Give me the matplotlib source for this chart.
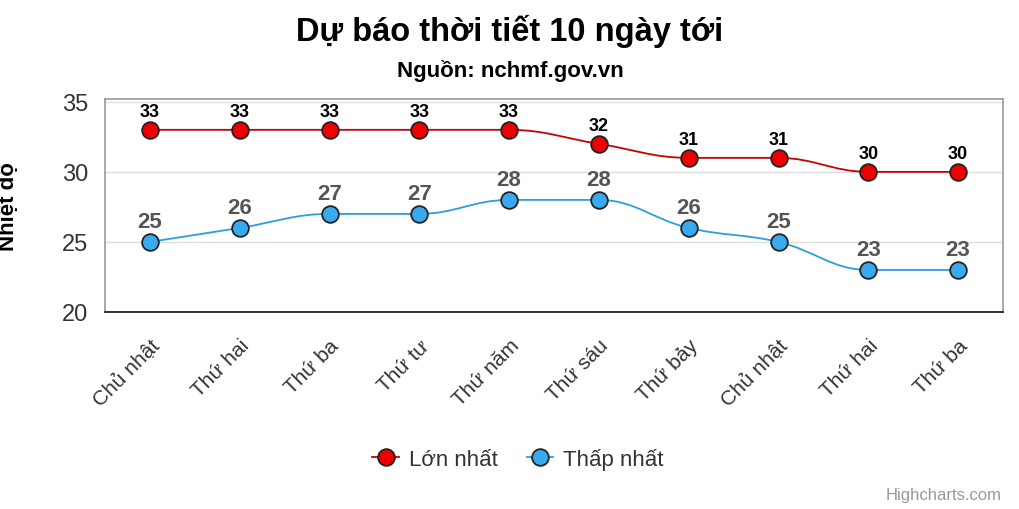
import numpy as np
import matplotlib.pyplot as plt
from matplotlib.path import Path
import matplotlib.patches as patches

plt.rcParams['font.family'] = ['Liberation Sans', 'DejaVu Sans']

days = ['Chủ nhật', 'Thứ hai', 'Thứ ba', 'Thứ tư', 'Thứ năm',
        'Thứ sáu', 'Thứ bảy', 'Chủ nhật', 'Thứ hai', 'Thứ ba']
t_max = [33, 33, 33, 33, 33, 32, 31, 31, 30, 30]
t_min = [25, 26, 27, 27, 28, 28, 26, 25, 23, 23]
series_names = ['Lớn nhất', 'Thấp nhất']


def spline_path(xs, ys, smoothing=1.5):
    # Highcharts-style spline control points, drawn as cubic Bezier segments
    n = len(xs)
    denom = smoothing + 1
    left = [None] * n
    right = [None] * n
    for i in range(n):
        if i == 0 or i == n - 1:
            left[i] = right[i] = (xs[i], ys[i])
            continue
        lx = (smoothing * xs[i] + xs[i - 1]) / denom
        ly = (smoothing * ys[i] + ys[i - 1]) / denom
        rx = (smoothing * xs[i] + xs[i + 1]) / denom
        ry = (smoothing * ys[i] + ys[i + 1]) / denom
        if rx != lx:
            corr = (ry - ly) * (rx - xs[i]) / (rx - lx) + ys[i] - ry
            ly += corr
            ry += corr
        hi, lo = max(ys[i - 1], ys[i]), min(ys[i - 1], ys[i])
        if ly > hi:
            ly = hi; ry = 2 * ys[i] - ly
        elif ly < lo:
            ly = lo; ry = 2 * ys[i] - ly
        hi, lo = max(ys[i + 1], ys[i]), min(ys[i + 1], ys[i])
        if ry > hi:
            ry = hi; ly = 2 * ys[i] - ry
        elif ry < lo:
            ry = lo; ly = 2 * ys[i] - ry
        left[i] = (lx, ly)
        right[i] = (rx, ry)
    verts = [(xs[0], ys[0])]
    codes = [Path.MOVETO]
    for i in range(1, n):
        verts += [right[i - 1], left[i], (xs[i], ys[i])]
        codes += [Path.CURVE4] * 3
    return Path(verts, codes)


fig = plt.figure(figsize=(10.2, 5.1), dpi=100)
ax = fig.add_axes([105 / 1020, 1 - 313 / 510, 898 / 1020, 213 / 510])

x = np.arange(len(days))
styles = [
    (t_max, '#c80000', '#ee0000', 'black', 13),
    (t_min, '#2a9fe0', '#3aaaf0', '#555555', 16),
]
handles = []
for (vals, lc, fc, tc, fs), name in zip(styles, series_names):
    ax.add_patch(patches.PathPatch(spline_path(list(x), list(vals)),
                                   facecolor='none', edgecolor=lc, lw=1.3, zorder=3))
    ax.plot(x, vals, linestyle='None', marker='o', ms=12,
            markerfacecolor=fc, markeredgecolor='#222222', markeredgewidth=1.3,
            zorder=4)
    for xi, v in zip(x, vals):
        ax.annotate(str(v), (xi, v), xytext=(0, 7), textcoords='offset points',
                    ha='center', va='bottom', fontsize=fs, fontweight='bold', color=tc)
    handles.append(ax.plot([], [], color=lc, lw=1.3, marker='o', ms=12,
                           markerfacecolor=fc, markeredgecolor='#222222',
                           markeredgewidth=1.3, label=name)[0])

ax.set_xlim(-0.5, 9.5)
ax.set_ylim(20, 35.2)
ax.set_yticks([20, 25, 30, 35])
ax.set_xticks(x)
ax.set_xticklabels(days, rotation=45, ha='right', rotation_mode='anchor',
                   fontsize=15, color='#333333')
ax.tick_params(axis='y', length=0, labelsize=17, labelcolor='#333333', pad=12)
ax.tick_params(axis='x', length=0, pad=17)
ax.grid(axis='y', color='#dddddd', lw=1)
ax.set_axisbelow(True)
for s in ['left', 'top', 'right']:
    ax.spines[s].set_color('#999999')
    ax.spines[s].set_linewidth(1.2)
ax.spines['bottom'].set_color('#222222')
ax.spines['bottom'].set_linewidth(1.3)

ax.set_ylabel('Nhiệt độ', fontsize=16, fontweight='bold')
ax.yaxis.set_label_coords(-86 / 898, 0.5)

fig.text(0.5, 1 - 31 / 510, 'Dự báo thời tiết 10 ngày tới', ha='center', va='center',
         fontsize=23.5, fontweight='bold', color='black')
fig.text(0.5, 1 - 71 / 510, 'Nguồn: nchmf.gov.vn', ha='center', va='center',
         fontsize=16, fontweight='bold', color='black')

fig.legend(handles=handles, loc='center', bbox_to_anchor=(0.508, 1 - 460 / 510),
           ncol=2, frameon=False, fontsize=16, handlelength=1.2, handletextpad=0.45,
           columnspacing=1.3, labelcolor='#333333')

fig.text(1 - 18 / 1020, 1 - 496 / 510, 'Highcharts.com', ha='right', va='center',
         fontsize=12, color='#999999')

fig.savefig('out.png', dpi=100)
